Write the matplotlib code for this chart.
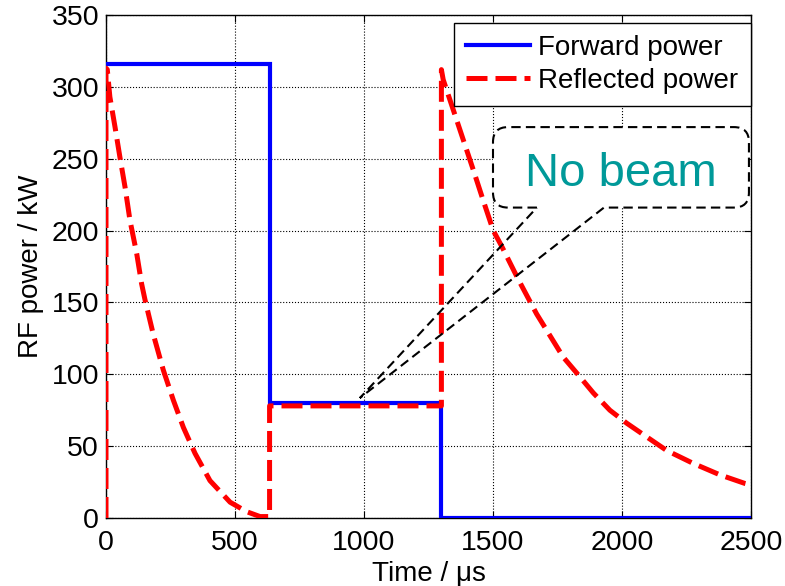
import numpy as np
import matplotlib
matplotlib.use('Agg')
import matplotlib.pyplot as plt
from matplotlib.path import Path
from matplotlib.patches import PathPatch
from matplotlib.transforms import IdentityTransform

plt.rcParams['font.family'] = ['Liberation Sans', 'DejaVu Sans']

# Forward power (kW) vs time (us)
t_fwd = [0, 636, 636, 1300, 1300, 2500]
p_fwd = [316, 316, 80, 80, 0, 0]

# Reflected power (kW) vs time (us)
t_refl = [0, 0, 5, 15, 35, 54, 74, 93, 119, 138, 151, 183, 222, 261, 300,
          345, 403, 481, 545, 597, 634,
          634, 1300,
          1300, 1307, 1346, 1385, 1424, 1462, 1501, 1534, 1598, 1669, 1772,
          1824, 1889, 1953, 2018, 2083, 2173, 2276, 2380, 2477, 2500]
p_refl = [0, 313, 312, 293, 272, 251, 230, 207, 184, 163, 152, 128, 103, 82,
          63, 45, 26, 11, 4.4, 1, 1,
          78, 78,
          312, 305, 284, 263, 242, 221, 200, 189, 166, 142, 112,
          101, 87, 75, 66, 58, 47, 38, 30, 24, 23]

legend_labels = ['Forward power', 'Reflected power']
callout_text = 'No beam'

fig = plt.figure(figsize=(7.85, 5.86), dpi=100)
ax = fig.add_axes([106 / 785, 1 - 518 / 586, 645 / 785, 503 / 586])

ax.plot(t_fwd, p_fwd, color='#0000ff', lw=3.0, solid_joinstyle='miter',
        label=legend_labels[0], zorder=3)
ax.plot(t_refl, p_refl, color='#ff0000', lw=3.6, dashes=(4.2, 1.6),
        label=legend_labels[1], zorder=4)

ax.set_xlim(0, 2500)
ax.set_ylim(0, 350)
ax.set_xticks(np.arange(0, 2501, 500))
ax.set_yticks(np.arange(0, 351, 50))
ax.grid(True, color='black', linestyle=':', linewidth=0.8)
ax.tick_params(direction='in', top=True, right=True, length=5, width=0.8,
               labelsize=20.5)
ax.tick_params(axis='x', pad=9)
ax.tick_params(axis='y', pad=5)
for sp in ax.spines.values():
    sp.set_linewidth(1.0)

ax.set_xlabel('Time / \u03bcs', fontsize=20, labelpad=3)
ax.set_ylabel('RF power / kW', fontsize=20, labelpad=5)

leg = ax.legend(loc='upper right', bbox_to_anchor=(1.0, 0.985),
                borderaxespad=0, fontsize=20, handlelength=2.3,
                handletextpad=0.3, labelspacing=0.25, borderpad=0.45,
                fancybox=False, framealpha=1, edgecolor='black')
leg.get_frame().set_linewidth(1.0)
leg.set_zorder(10)

# callout box (positions in data units, drawn in pixels for round corners)
box_x0, box_x1, box_y0, box_y1 = 1500, 2492, 216, 272
base_l, base_r = 1670, 1930
tip = (984, 83.5)
r = 15

to_px = ax.transData.transform
X0, Y0 = to_px((box_x0, box_y0))
X1, Y1 = to_px((box_x1, box_y1))
BL = to_px((base_l, box_y0))[0]
BR = to_px((base_r, box_y0))[0]
TX, TY = to_px(tip)

rect_v = [(X0 + r, Y0), (X0, Y0), (X0, Y0 + r), (X0, Y1 - r), (X0, Y1),
          (X0 + r, Y1), (X1 - r, Y1), (X1, Y1), (X1, Y1 - r), (X1, Y0 + r),
          (X1, Y0), (X1 - r, Y0), (X0 + r, Y0)]
rect_c = [Path.MOVETO, Path.CURVE3, Path.CURVE3, Path.LINETO, Path.CURVE3,
          Path.CURVE3, Path.LINETO, Path.CURVE3, Path.CURVE3, Path.LINETO,
          Path.CURVE3, Path.CURVE3, Path.CLOSEPOLY]
fill = PathPatch(Path(rect_v, rect_c), transform=IdentityTransform(),
                 facecolor='white', edgecolor='none', zorder=6)
fig.add_artist(fill)

out_v = [(BL, Y0), (X0 + r, Y0), (X0, Y0), (X0, Y0 + r), (X0, Y1 - r),
         (X0, Y1), (X0 + r, Y1), (X1 - r, Y1), (X1, Y1), (X1, Y1 - r),
         (X1, Y0 + r), (X1, Y0), (X1 - r, Y0), (BR, Y0), (TX, TY), (BL, Y0)]
out_c = [Path.MOVETO, Path.LINETO, Path.CURVE3, Path.CURVE3, Path.LINETO,
         Path.CURVE3, Path.CURVE3, Path.LINETO, Path.CURVE3, Path.CURVE3,
         Path.LINETO, Path.CURVE3, Path.CURVE3, Path.LINETO, Path.LINETO,
         Path.LINETO]
outline = PathPatch(Path(out_v, out_c), transform=IdentityTransform(),
                    facecolor='none', edgecolor='black', lw=1.5,
                    linestyle=(0, (4.5, 2.5)), zorder=7)
fig.add_artist(outline)

fig.text((X0 + X1) / 2 / fig.bbox.width, (586 - 186) / 586,
         callout_text, color='#009999', fontsize=34, ha='center',
         va='baseline', zorder=8)

fig.savefig('out.png', dpi=100)
